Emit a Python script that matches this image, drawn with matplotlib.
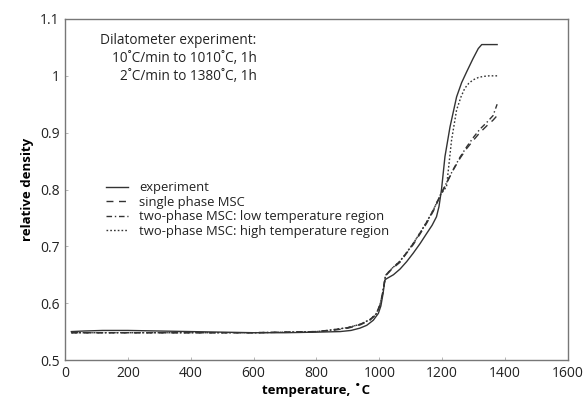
import matplotlib.pyplot as plt

# experiment (solid)
exp_t = [20, 60, 120, 200, 300, 400, 500, 600, 700, 800, 875, 910, 938, 960, 981,
         997, 1005, 1012, 1016, 1018, 1023, 1045, 1066, 1087, 1108, 1130, 1150, 1168,
         1182, 1190, 1198, 1209, 1225, 1246, 1262, 1278, 1298, 1315, 1326, 1350, 1375]
exp_rho = [0.550, 0.551, 0.552, 0.552, 0.551, 0.550, 0.549, 0.548, 0.548, 0.549, 0.550,
           0.552, 0.556, 0.561, 0.570, 0.582, 0.595, 0.617, 0.633, 0.641, 0.643, 0.650,
           0.660, 0.673, 0.688, 0.705, 0.722, 0.737, 0.752, 0.770, 0.800, 0.858, 0.910,
           0.963, 0.988, 1.007, 1.030, 1.048, 1.055, 1.055, 1.055]

# single phase MSC (dashed)
sp_t = [20, 100, 200, 300, 400, 500, 600, 700, 800, 850, 900, 940, 970, 990, 1002,
        1010, 1016, 1020, 1040, 1066, 1087, 1108, 1130, 1150, 1172, 1195, 1215, 1235,
        1257, 1278, 1300, 1320, 1342, 1362, 1375]
sp_rho = [0.548, 0.548, 0.548, 0.548, 0.548, 0.548, 0.548, 0.549, 0.550, 0.552, 0.556,
          0.562, 0.570, 0.580, 0.596, 0.615, 0.635, 0.648, 0.660, 0.672, 0.688, 0.703,
          0.722, 0.740, 0.762, 0.790, 0.812, 0.834, 0.855, 0.872, 0.887, 0.900, 0.912,
          0.922, 0.930]

# two-phase MSC: low temperature region (dash-dot)
lt_t = [20, 100, 200, 300, 400, 500, 600, 700, 800, 850, 900, 940, 970, 990, 1002,
        1010, 1016, 1020, 1040, 1066, 1087, 1108, 1130, 1150, 1172, 1195, 1215, 1235,
        1257, 1278, 1300, 1320, 1342, 1362, 1375]
lt_rho = [0.548, 0.548, 0.548, 0.548, 0.548, 0.548, 0.548, 0.549, 0.550, 0.553, 0.557,
          0.563, 0.571, 0.581, 0.597, 0.616, 0.636, 0.649, 0.661, 0.674, 0.689, 0.705,
          0.724, 0.742, 0.764, 0.791, 0.813, 0.835, 0.857, 0.875, 0.892, 0.906, 0.918,
          0.930, 0.950]

# two-phase MSC: high temperature region (dotted)
ht_t = [20, 100, 200, 300, 400, 500, 600, 700, 800, 850, 900, 940, 970, 990, 1002,
        1010, 1016, 1020, 1040, 1066, 1087, 1108, 1130, 1150, 1172, 1195, 1214, 1230,
        1246, 1260, 1272, 1285, 1299, 1315, 1331, 1350, 1375]
ht_rho = [0.548, 0.548, 0.548, 0.548, 0.548, 0.548, 0.548, 0.549, 0.550, 0.553, 0.557,
          0.563, 0.571, 0.581, 0.597, 0.616, 0.636, 0.649, 0.661, 0.674, 0.689, 0.705,
          0.724, 0.742, 0.764, 0.791, 0.805, 0.887, 0.940, 0.963, 0.978, 0.987, 0.993,
          0.997, 0.999, 1.000, 1.000]

plt.rcParams['font.family'] = ['Open Sans', 'DejaVu Sans']
plt.rcParams['font.size'] = 9

fig = plt.figure(figsize=(5.86, 4.0), dpi=100)
ax = fig.add_axes([0.111, 0.10, 0.858, 0.8525])

lc = '#333333'
ax.plot(exp_t, exp_rho, color=lc, lw=1.0, linestyle='-', label='experiment')
ax.plot(sp_t, sp_rho, color=lc, lw=1.0, linestyle=(0, (5, 4)), label='single phase MSC')
ax.plot(lt_t, lt_rho, color=lc, lw=1.0, linestyle=(0, (4, 2, 1, 2)),
        label='two-phase MSC: low temperature region')
ax.plot(ht_t, ht_rho, color=lc, lw=1.0, linestyle=(0, (1.2, 1.5)),
        label='two-phase MSC: high temperature region')

ax.set_xlim(0, 1600)
ax.set_ylim(0.5, 1.1)
ax.set_xticks([0, 200, 400, 600, 800, 1000, 1200, 1400, 1600])
ax.set_yticks([0.5, 0.6, 0.7, 0.8, 0.9, 1.0, 1.1])
ax.set_yticklabels(['0.5', '0.6', '0.7', '0.8', '0.9', '1', '1.1'])
ax.tick_params(direction='in', length=2, width=0.6, color='#aaaaaa',
               labelsize=10, labelcolor='#222222', pad=4)
for s in ax.spines.values():
    s.set_color('#777777')
    s.set_linewidth(1.0)

ax.set_xlabel('temperature, ˚C', fontweight='bold', fontsize=9.5, labelpad=2)
ax.set_ylabel('relative density', fontweight='bold', fontsize=9.5, labelpad=4)

ax.text(0.381, 0.958, 'Dilatometer experiment:\n10˚C/min to 1010˚C, 1h\n2˚C/min to 1380˚C, 1h',
        transform=ax.transAxes, ha='right', va='top', multialignment='right',
        fontsize=9.8, color='#222222', linespacing=1.25)

ax.legend(loc='upper left', bbox_to_anchor=(0.071, 0.54), frameon=False,
          fontsize=9.4, handlelength=1.7, handletextpad=0.85, labelspacing=0.12,
          borderaxespad=0, labelcolor='#222222')

fig.savefig('out.png', dpi=100)
